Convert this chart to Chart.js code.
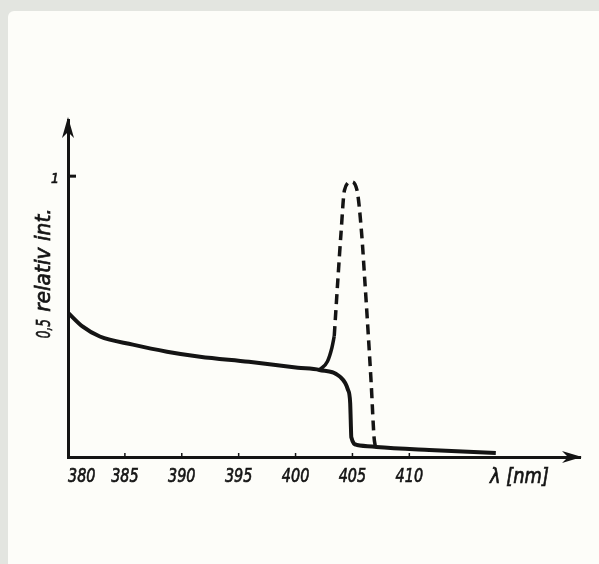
<!DOCTYPE html>
<html>
<head>
<meta charset="utf-8">
<script src="https://cdn.jsdelivr.net/npm/chart.js@4.4.1/dist/chart.umd.min.js"></script>
<style>
  body { margin: 0; background: #e3e5e0; }
  canvas { display: block; }
</style>
</head>
<body>
<canvas id="spectrumChart" width="599" height="564"></canvas>
<script>
// tick labels
const xTicks = [380, 385, 390, 395, 400, 405, 410];
const yTicks = [0.5, 1];
const yTickLabels = ['0,5', '1'];

// continuous background + step down (solid)
const baseWl  = [380, 381.3, 382.8, 385.7, 388.7, 391.6, 395.9, 400.2, 402.1, 403.9, 404.6, 404.8, 404.85, 404.9, 405.4, 407.1, 411.75, 417.6];
const baseInt = [0.514, 0.464, 0.429, 0.4, 0.375, 0.357, 0.339, 0.318, 0.31, 0.286, 0.24, 0.193, 0.13, 0.07, 0.043, 0.036, 0.025, 0.014];

// solid start of the rising branch
const riseWl  = [402.1, 402.8, 403.2, 403.4];
const riseInt = [0.31, 0.34, 0.39, 0.43];

// dashed line peak
const peakWl  = [403.4, 403.7, 404.0, 404.3, 404.9, 405.4, 405.8, 406.1, 406.4, 406.65, 406.9, 407.0];
const peakInt = [0.43, 0.62, 0.8, 0.95, 0.98, 0.95, 0.8, 0.62, 0.43, 0.26, 0.07, 0.04];

const ink = '#141414';
const handFont = "'DejaVu Sans', sans-serif";

function pts(xs, ys) {
  return xs.map((x, i) => ({ x: x, y: ys[i] }));
}

// draw text squeezed sideways (hand lettering is narrow)
function squeezed(ctx, text, x, y, size, squeeze, angle) {
  ctx.save();
  ctx.translate(x, y);
  if (angle) ctx.rotate(angle);
  ctx.scale(squeeze, 1);
  ctx.font = 'italic ' + size + 'px ' + handFont;
  ctx.lineWidth = 0.7;
  ctx.fillText(text, 0, 0);
  ctx.strokeText(text, 0, 0);
  ctx.restore();
}

// paper, arrows, axis texts
const paperPlugin = {
  id: 'paper',
  beforeDraw(chart) {
    const ctx = chart.ctx;
    ctx.save();
    ctx.fillStyle = '#e3e5e0';
    ctx.fillRect(0, 0, chart.width, chart.height);
    ctx.fillStyle = '#fdfdf9';
    ctx.beginPath();
    ctx.roundRect(8, 11, chart.width - 8, chart.height - 11, [6, 0, 0, 0]);
    ctx.fill();
    ctx.restore();
  },
  afterDraw(chart) {
    const ctx = chart.ctx;
    const xs = chart.scales.x, ys = chart.scales.y;
    const area = chart.chartArea;
    const left = area.left, bottom = area.bottom;
    ctx.save();
    ctx.fillStyle = ink;
    ctx.strokeStyle = ink;

    // y arrow
    ctx.beginPath();
    ctx.moveTo(left, area.top - 3);
    ctx.lineTo(left - 6, area.top + 18);
    ctx.lineTo(left, area.top + 12);
    ctx.lineTo(left + 6, area.top + 18);
    ctx.closePath();
    ctx.fill();

    // x arrow
    ctx.beginPath();
    ctx.moveTo(area.right + 2, bottom);
    ctx.lineTo(area.right - 18, bottom - 6);
    ctx.lineTo(area.right - 12, bottom);
    ctx.lineTo(area.right - 18, bottom + 6);
    ctx.closePath();
    ctx.fill();

    // small tick marks
    ctx.lineWidth = 1.5;
    xTicks.slice(1).forEach(v => {
      const px = xs.getPixelForValue(v);
      ctx.beginPath();
      ctx.moveTo(px, bottom - 1);
      ctx.lineTo(px, bottom - 4);
      ctx.stroke();
    });
    ctx.lineWidth = 3;
    const py1 = ys.getPixelForValue(1);
    ctx.beginPath();
    ctx.moveTo(left, py1);
    ctx.lineTo(left + 8, py1);
    ctx.stroke();

    // x tick labels
    ctx.textBaseline = 'alphabetic';
    xTicks.forEach((v, i) => {
      const px = xs.getPixelForValue(v);
      ctx.textAlign = i === 0 ? 'left' : 'center';
      squeezed(ctx, String(v), px, bottom + 25, 20, 0.72);
    });

    // y tick labels: "0,5" rotated, "1" upright
    ctx.textAlign = 'center';
    ctx.textBaseline = 'alphabetic';
    yTicks.forEach((v, i) => {
      const py = ys.getPixelForValue(v);
      if (yTickLabels[i].length > 1) {
        squeezed(ctx, yTickLabels[i], left - 18, py + 12, 20, 0.6, -Math.PI / 2);
      } else {
        squeezed(ctx, yTickLabels[i], left - 13, py + 7, 14, 0.9);
      }
    });

    // y title
    ctx.textAlign = 'center';
    squeezed(ctx, 'relativ int.', left - 18, 260, 22, 0.92, -Math.PI / 2);

    // x title
    ctx.textAlign = 'left';
    squeezed(ctx, '\u03bb [nm]', 490, bottom + 26, 21, 0.85);
    ctx.restore();
  }
};

const ctx = document.getElementById('spectrumChart').getContext('2d');

new Chart(ctx, {
  type: 'line',
  data: {
    datasets: [
      {
        label: 'spectrum',
        data: pts(baseWl, baseInt),
        borderColor: ink,
        borderWidth: 4,
        pointRadius: 0,
        cubicInterpolationMode: 'monotone',
        fill: false
      },
      {
        label: 'rise',
        data: pts(riseWl, riseInt),
        borderColor: ink,
        borderWidth: 3.5,
        pointRadius: 0,
        cubicInterpolationMode: 'monotone',
        fill: false
      },
      {
        label: 'peak',
        data: pts(peakWl, peakInt),
        borderColor: ink,
        borderWidth: 3.5,
        borderDash: [10, 6],
        pointRadius: 0,
        cubicInterpolationMode: 'monotone',
        fill: false
      }
    ]
  },
  options: {
    responsive: false,
    animation: false,
    layout: { padding: { top: 120, right: 19, left: 0, bottom: 0 } },
    plugins: {
      legend: { display: false },
      tooltip: { enabled: false }
    },
    scales: {
      x: {
        type: 'linear',
        min: 380,
        max: 425,
        grid: { display: false, drawTicks: false },
        border: { display: true, color: ink, width: 3 },
        afterFit: (scale) => { scale.height = 107; },
        ticks: { display: false }
      },
      y: {
        type: 'linear',
        min: 0,
        max: 1.2,
        grid: { display: false, drawTicks: false },
        border: { display: true, color: ink, width: 3 },
        afterFit: (scale) => { scale.width = 68; },
        ticks: { display: false }
      }
    }
  },
  plugins: [paperPlugin]
});
</script>
</body>
</html>
